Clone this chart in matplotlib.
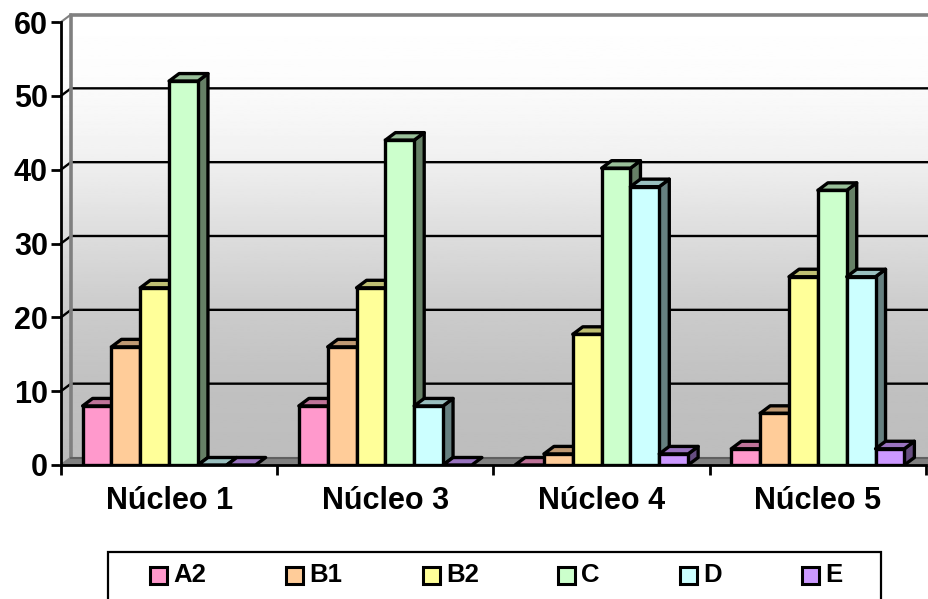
import numpy as np
import matplotlib
matplotlib.use('Agg')
import matplotlib.pyplot as plt
from matplotlib.patches import Polygon, Rectangle

plt.rcParams['font.family'] = ['Liberation Sans', 'DejaVu Sans']

categories = ['Núcleo 1', 'Núcleo 3', 'Núcleo 4', 'Núcleo 5']
series_names = ['A2', 'B1', 'B2', 'C', 'D', 'E']
a2 = [8, 8, 0, 2.2]
b1 = [16, 16, 1.5, 7]
b2 = [24, 24, 17.7, 25.5]
c = [52, 44, 40.2, 37.2]
d = [0, 8, 37.7, 25.5]
e = [0, 0, 1.5, 2.2]
series = [a2, b1, b2, c, d, e]
colors = ['#FF99CC', '#FFCC99', '#FFFF99', '#CCFFCC', '#CCFFFF', '#CC99FF']
y_ticks = [0, 10, 20, 30, 40, 50, 60]

W, H = 929, 599
fig = plt.figure(figsize=(W / 100, H / 100), dpi=100)
ax = fig.add_axes([61 / W, (H - 465) / H, 865 / W, 443 / H])
ax.set_xlim(0, 4)
ax.set_ylim(0, 60)

# 3D depth, in data units
dx = 10 / (865 / 4)
dy = 7.5 / (443 / 60)
right = 4 + 3 / (865 / 4)
lw = 2.4


def shade(color, f):
    r = matplotlib.colors.to_rgb(color)
    return tuple(v * f for v in r)


# walls with gradient (flat near the top, darker to the floor)
pos = np.linspace(0, 1, 256)
grad = np.interp(pos, [0, 0.13, 0.30, 0.46, 0.65, 0.83, 1.0],
                 [1.0, 0.99, 0.95, 0.88, 0.80, 0.755, 0.74]).reshape(-1, 1)
wall = ax.imshow(grad, cmap='gray', vmin=0, vmax=1, aspect='auto',
                 extent=[0, right, 0, 60 + dy], zorder=1, clip_on=False)
clip = Polygon([(0, 0), (0, 60), (dx, 60 + dy), (right, 60 + dy), (right, 0)],
               transform=ax.transData, fill=False, edgecolor='none')
ax.add_patch(clip)
wall.set_clip_path(clip)

# floor
ax.add_patch(Polygon([(0, 0), (dx, dy), (right, dy), (right, 0)], closed=True,
                     facecolor='#808080', edgecolor='none', zorder=2, clip_on=False))

# grid lines
for t in y_ticks[1:-1]:
    ax.plot([0, dx, right], [t, t + dy, t + dy], color='black', lw=1.7, zorder=3,
            clip_on=False, solid_joinstyle='miter')

# wall edges
ax.plot([dx, dx, right], [dy, 60 + dy, 60 + dy], color='#808080', lw=2.6, zorder=3,
        clip_on=False, solid_joinstyle='miter')
ax.plot([0, dx], [0, dy], color='#808080', lw=1.5, zorder=3, clip_on=False)
ax.plot([0, dx], [60, 60 + dy], color='#808080', lw=1.5, zorder=3, clip_on=False)
ax.plot([dx, right], [dy, dy], color='#606060', lw=1.5, zorder=3, clip_on=False)

# bars
width = 1 / (len(series) + 1.5)
gap = 0.75 * width
z = 4
for i in range(len(categories)):
    for j, vals in enumerate(series):
        x0 = i + gap + j * width
        x1 = x0 + width
        v = vals[i]
        col = colors[j]
        if v > 0:
            ax.add_patch(Polygon([(x1, 0), (x1 + dx, dy), (x1 + dx, v + dy), (x1, v)],
                                 closed=True, facecolor=shade(col, 0.5), edgecolor='black',
                                 lw=lw, zorder=z, joinstyle='round'))
        ax.add_patch(Polygon([(x0, v), (x0 + dx, v + dy), (x1 + dx, v + dy), (x1, v)],
                             closed=True, facecolor=shade(col, 0.75), edgecolor='black',
                             lw=lw, zorder=z, joinstyle='round'))
        if v > 0:
            ax.bar(x0, v, width, align='edge', color=col, edgecolor='black',
                   linewidth=lw, zorder=z + 0.5)
        z += 1

# axes lines and ticks
for s in ['top', 'right']:
    ax.spines[s].set_visible(False)
for s in ['left', 'bottom']:
    ax.spines[s].set_linewidth(2.0)
    ax.spines[s].set_zorder(100)
ax.set_yticks(y_ticks)
ax.set_yticklabels([str(t) for t in y_ticks], fontsize=22, fontweight='bold')
ax.set_xticks(range(len(categories) + 1))
ax.set_xticklabels([])
ax.set_xticks([i + 0.5 for i in range(len(categories))], minor=True)
ax.set_xticklabels(categories, minor=True, fontsize=22, fontweight='bold')
ax.tick_params(axis='y', length=7, width=2.0, pad=2.5)
ax.tick_params(axis='x', which='major', length=7, width=2.0)
ax.tick_params(axis='x', which='minor', length=0, pad=15)

# legend (bottom of the box is cut by the image edge)
fig.add_artist(Rectangle((108.5 / W, 1 - 610 / H), 773 / W, 58 / H, facecolor='white',
                         edgecolor='black', lw=1.6, transform=fig.transFigure))
key_x = [150, 286, 423, 558, 680, 802]
for name, col, kx in zip(series_names, colors, key_x):
    fig.add_artist(Rectangle((kx / W, 1 - 584 / H), 17 / W, 17 / H, facecolor=col,
                             edgecolor='black', lw=2.2, transform=fig.transFigure))
    fig.text((kx + 23.5) / W, 1 - 575.5 / H, name, fontsize=18.5, fontweight='bold',
             va='center', ha='left')

fig.savefig('out.png', dpi=100)
